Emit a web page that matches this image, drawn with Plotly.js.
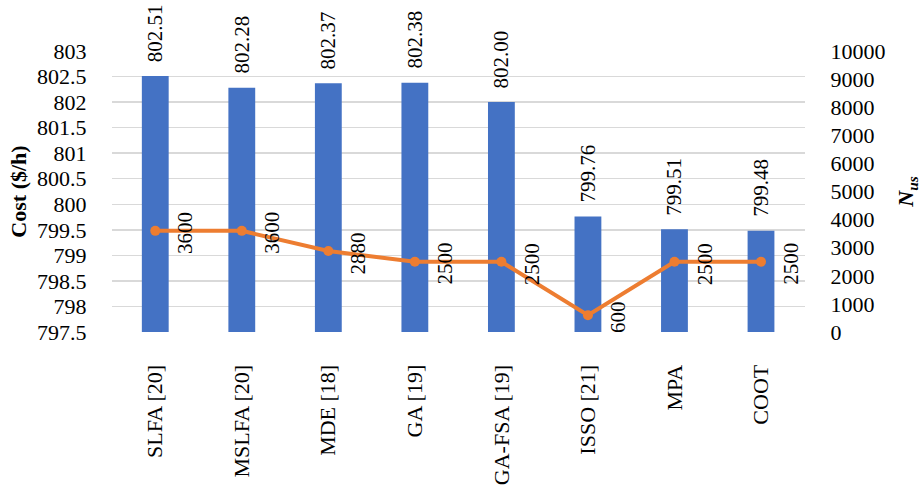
<!DOCTYPE html>
<html>
<head>
<meta charset="utf-8">
<script src="https://cdn.plot.ly/plotly-3.0.1.min.js"></script>
<style>html,body{margin:0;padding:0;background:#fff;}#chart{width:921px;height:497px;}</style>
</head>
<body>
<div id="chart"></div>
<script>
const categories = ["SLFA [20]", "MSLFA [20]", "MDE [18]", "GA [19]", "GA-FSA [19]", "ISSO [21]", "MPA", "COOT"];
const costValues = [802.51, 802.28, 802.37, 802.38, 802.00, 799.76, 799.51, 799.48];
const costLabels = ["802.51", "802.28", "802.37", "802.38", "802.00", "799.76", "799.51", "799.48"];
const nusValues = [3600, 3600, 2880, 2500, 2500, 600, 2500, 2500];
const nusLabels = ["3600", "3600", "2880", "2500", "2500", "600", "2500", "2500"];
const leftTicks = [797.5, 798, 798.5, 799, 799.5, 800, 800.5, 801, 801.5, 802, 802.5, 803];
const rightTicks = [0, 1000, 2000, 3000, 4000, 5000, 6000, 7000, 8000, 9000, 10000];

const FONT = "'Liberation Serif', 'Times New Roman', serif";

const traces = [
  {
    type: 'bar', x: categories, y: costValues, yaxis: 'y',
    marker: {color: '#4472C4'}, hoverinfo: 'none'
  },
  {
    type: 'scatter', mode: 'lines+markers', x: categories, y: nusValues, yaxis: 'y2',
    line: {color: '#ED7D31', width: 4}, marker: {color: '#ED7D31', size: 10},
    hoverinfo: 'none', cliponaxis: false
  }
];

const annotations = [];
categories.forEach((c, i) => {
  annotations.push({
    x: c, y: costValues[i], xref: 'x', yref: 'y', text: costLabels[i],
    textangle: -90, showarrow: false, xanchor: 'center', yanchor: 'bottom', yshift: 12,
    font: {family: FONT, size: 21, color: '#000'}
  });
  annotations.push({
    x: c, y: nusValues[i], xref: 'x', yref: 'y2', text: nusLabels[i],
    textangle: -90, showarrow: false, xanchor: 'center', yanchor: 'middle', xshift: 30, yshift: -2,
    font: {family: FONT, size: 21, color: '#000'}
  });
});

const layout = {
  width: 921, height: 497,
  margin: {l: 112, r: 116, t: 51, b: 165},
  paper_bgcolor: '#fff', plot_bgcolor: '#fff',
  font: {family: FONT, size: 21, color: '#000'},
  showlegend: false,
  bargap: 0.69,
  xaxis: {
    type: 'category', tickangle: -90, ticks: 'outside', ticklen: 23, tickcolor: 'rgba(0,0,0,0)',
    showline: false, showgrid: false, zeroline: false,
    tickfont: {family: FONT, size: 22, color: '#000'}
  },
  yaxis: {
    range: [797.5, 803], tickvals: leftTicks, ticktext: leftTicks.map(String),
    showgrid: true, gridcolor: '#D9D9D9', gridwidth: 1.5, zeroline: false, showline: false,
    ticks: 'outside', ticklen: 20, tickcolor: 'rgba(0,0,0,0)',
    tickfont: {family: FONT, size: 22, color: '#000'},
    title: {text: '<b>Cost ($/h)</b>', standoff: 4, font: {family: FONT, size: 22, color: '#000'}}
  },
  yaxis2: {
    overlaying: 'y', side: 'right', range: [0, 10000], tickvals: rightTicks, ticktext: rightTicks.map(String),
    showgrid: false, zeroline: false, showline: false,
    ticks: 'outside', ticklen: 20, tickcolor: 'rgba(0,0,0,0)',
    tickfont: {family: FONT, size: 22, color: '#000'},
    title: {text: '<b><i>N<sub>us</sub></i></b>', standoff: 16, font: {family: FONT, size: 22, color: '#000'}}
  },
  annotations: annotations
};

Plotly.newPlot('chart', traces, layout, {displayModeBar: false, staticPlot: true});
</script>
</body>
</html>
